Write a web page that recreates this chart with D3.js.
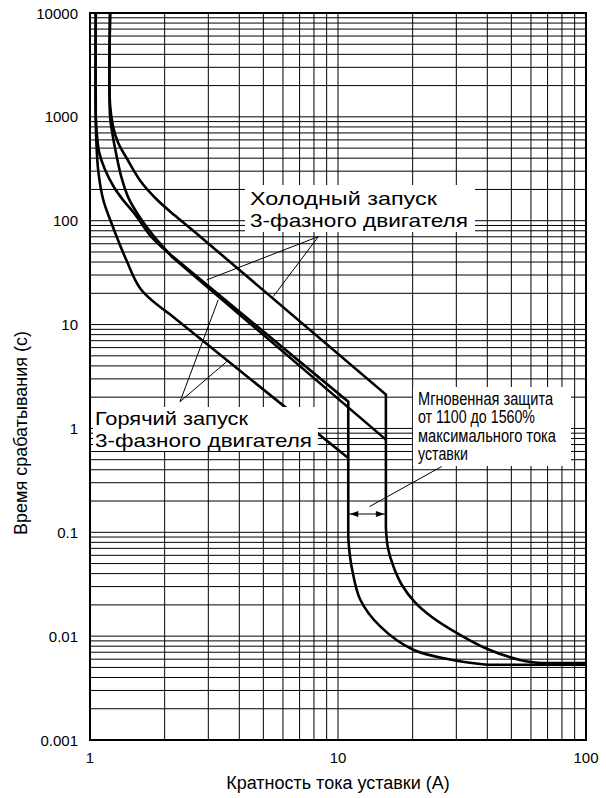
<!DOCTYPE html>
<html><head><meta charset="utf-8">
<script src="https://cdn.jsdelivr.net/npm/d3@7"></script>
<style>body{margin:0;background:#fff}svg{display:block}</style>
</head><body><svg id="c" width="606" height="798"></svg>
<script>
// ---- data (x = multiple of setting current, t = trip time in s) ----
const xTicks = [1, 10, 100];
const xTickLabels = ["1", "10", "100"];
const yTicks = [0.001, 0.01, 0.1, 1, 10, 100, 1000, 10000];
const yTickLabels = ["0.001", "0.01", "0.1", "1", "10", "100", "1000", "10000"];

// hot start, lower curve
const hotLowerKnee = [[1.055,10000],[1.055,1000],[1.06,600],[1.08,300],[1.13,160],[1.22,95],[1.4,42],[1.6,22],[2.07,12.9]];
const hotLowerLine = [[2.07,12.9],[11,0.52]];
// hot start, upper curve
const hotUpperKnee = [[1.055,10000],[1.055,1000],[1.065,700],[1.09,450],[1.15,309],[1.25,210],[1.36,158],[1.52,115],[1.75,72],[2.07,49]];
const hotUpperLine = [[2.07,49],[11,1.81],[11,0.09]];
const hotTripBend = [[11,0.09],[11.1,0.068],[11.4,0.044],[12.3,0.0224],[14.8,0.0124],[20.1,0.0074],[30.1,0.0058],[40,0.0053]];
const hotTail = [[40,0.0053],[100,0.0053]];
// cold start, lower curve
const coldLowerKnee = [[1.205,10000],[1.205,1000],[1.23,700],[1.28,420],[1.34,260],[1.43,165],[1.6,105],[1.8,72],[2.14,45]];
const coldLowerLine = [[2.14,45],[15.6,0.78]];
// cold start, upper curve
const coldUpperKnee = [[1.205,10000],[1.205,1300],[1.24,800],[1.3,560],[1.41,395],[1.6,240],[1.86,160],[2.2,112],[2.66,77]];
const coldUpperLine = [[2.66,77],[15.6,2.12],[15.6,0.11]];
const coldTripBend = [[15.6,0.11],[15.9,0.0706],[16.7,0.0474],[18.1,0.0311],[20.4,0.0213],[23.9,0.0153],[29.6,0.011],[39.6,0.0076],[54.2,0.0059],[66,0.0055]];
const coldTail = [[66,0.0055],[100,0.0055]];

// annotation leaders (data coords)
const coldLeaders = [[[8.33,70.3],[2.955,26.9]],[[8.33,70.3],[5.48,18.6]]];
const hotLeaders = [[[2.306,1.81],[3.29,17.3]],[[2.306,1.81],[3.56,4.4]]];
const instLeader = [[13.4,0.177],[26.2,0.43]];
const instArrow = [[11,0.15],[15.6,0.15]];

const coldLabel = ["Холодный запуск", "3-фазного двигателя"];
const hotLabel = ["Горячий запуск", "3-фазного двигателя"];
const instLabel = ["Мгновенная защита", "от 1100 до 1560%", "максимального тока", "уставки"];

// ---- layout ----
const W = 606, H = 798;
const L = 90, R = 586, T = 13, B = 740;
const svg = d3.select("#c");
svg.append("rect").attr("width", W).attr("height", H).attr("fill", "#fff");
const x = d3.scaleLog().domain([1, 100]).range([L, R]);
const y = d3.scaleLog().domain([0.001, 10000]).range([B, T]);
const font = "'Liberation Sans', Arial, Helvetica, sans-serif";

// grid
const xGrid = [], yGrid = [];
for (let d = 0; d < 2; d++) for (let k = 1; k <= 9; k++) xGrid.push(k * Math.pow(10, d));
xGrid.push(100);
for (let d = -3; d < 4; d++) for (let k = 1; k <= 9; k++) yGrid.push(k * Math.pow(10, d));
yGrid.push(10000);
const g = svg.append("g").attr("stroke", "#000").attr("stroke-width", 1);
g.selectAll("line.v").data(xGrid).join("line").attr("class","v")
  .attr("x1", d => x(d)).attr("x2", d => x(d)).attr("y1", T).attr("y2", B);
g.selectAll("line.h").data(yGrid).join("line").attr("class","h")
  .attr("x1", L).attr("x2", R).attr("y1", d => y(d)).attr("y2", d => y(d));

// curves
const lin = d3.line().x(d => x(d[0])).y(d => y(d[1]));
const cur = d3.line().x(d => x(d[0])).y(d => y(d[1])).curve(d3.curveCatmullRom.alpha(0.5));
function joinPath(parts) {
  return parts.map((p, i) => {
    const s = (p.curved ? cur : lin)(p.pts);
    return i === 0 ? s : s.replace(/^M/, "L");
  }).join("");
}
const curves = [
  [{pts: hotLowerKnee, curved: true}, {pts: hotLowerLine}],
  [{pts: hotUpperKnee, curved: true}, {pts: hotUpperLine}, {pts: hotTripBend, curved: true}, {pts: hotTail}],
  [{pts: coldLowerKnee, curved: true}, {pts: coldLowerLine}],
  [{pts: coldUpperKnee, curved: true}, {pts: coldUpperLine}, {pts: coldTripBend, curved: true}, {pts: coldTail}]
];
svg.append("g").selectAll("path").data(curves).join("path")
  .attr("d", d => joinPath(d)).attr("fill", "none").attr("stroke", "#000")
  .attr("stroke-width", 2.6).attr("stroke-linejoin", "miter");

// white label boxes
function box(x0, y0, x1, y1) {
  svg.append("rect").attr("x", x0).attr("y", y0).attr("width", x1 - x0).attr("height", y1 - y0).attr("fill", "#fff");
}
box(245, 185, 475, 232);
box(93, 407, 318, 451);
box(413, 387, 571, 466);

function textLines(lines, x0, baselines, size, lengths) {
  lines.forEach((s, i) => {
    const t = svg.append("text").attr("x", x0).attr("y", baselines[i])
      .attr("font-family", font).attr("font-size", size).attr("fill", "#000").text(s);
    if (lengths && lengths[i]) t.attr("textLength", lengths[i]).attr("lengthAdjust", "spacingAndGlyphs");
  });
}
textLines(coldLabel, 250, [205, 226.5], 19, [187, 218]);
textLines(hotLabel, 95, [425, 446.5], 19, [153, 217]);
textLines(instLabel, 418, [405, 423.3, 441.7, 459.8], 17.5, [135, 117, 138, 50]);

// leaders
const ann = svg.append("g").attr("stroke", "#000").attr("stroke-width", 1).attr("fill", "none");
[...coldLeaders, ...hotLeaders, instLeader].forEach(seg => ann.append("path").attr("d", lin(seg)));
// double arrow
const ax0 = x(instArrow[0][0]), ax1 = x(instArrow[1][0]), ay = y(instArrow[0][1]);
ann.append("line").attr("x1", ax0).attr("x2", ax1).attr("y1", ay).attr("y2", ay);
svg.append("path").attr("d", `M${ax0+1.5},${ay}L${ax0+10},${ay-3}L${ax0+10},${ay+3}Z`).attr("fill", "#000");
svg.append("path").attr("d", `M${ax1-1.5},${ay}L${ax1-10},${ay-3}L${ax1-10},${ay+3}Z`).attr("fill", "#000");

// frame
svg.append("rect").attr("x", L).attr("y", T).attr("width", R - L).attr("height", B - T)
  .attr("fill", "none").attr("stroke", "#000").attr("stroke-width", 2);

// tick labels
svg.append("g").selectAll("text").data(yTicks).join("text")
  .attr("x", 78).attr("y", d => y(d) + 5.5).attr("text-anchor", "end")
  .attr("font-family", font).attr("font-size", 15).text((d, i) => yTickLabels[i]);
svg.append("g").selectAll("text").data(xTicks).join("text")
  .attr("x", d => x(d)).attr("y", 763).attr("text-anchor", "middle")
  .attr("font-family", font).attr("font-size", 15).text((d, i) => xTickLabels[i]);

// axis titles
svg.append("text").attr("x", 338).attr("y", 789).attr("text-anchor", "middle")
  .attr("font-family", font).attr("font-size", 18).text("Кратность тока уставки (А)");
svg.append("text").attr("transform", "translate(27,433) rotate(-90)").attr("text-anchor", "middle")
  .attr("font-family", font).attr("font-size", 18).text("Время срабатывания (с)");
</script></body></html>
